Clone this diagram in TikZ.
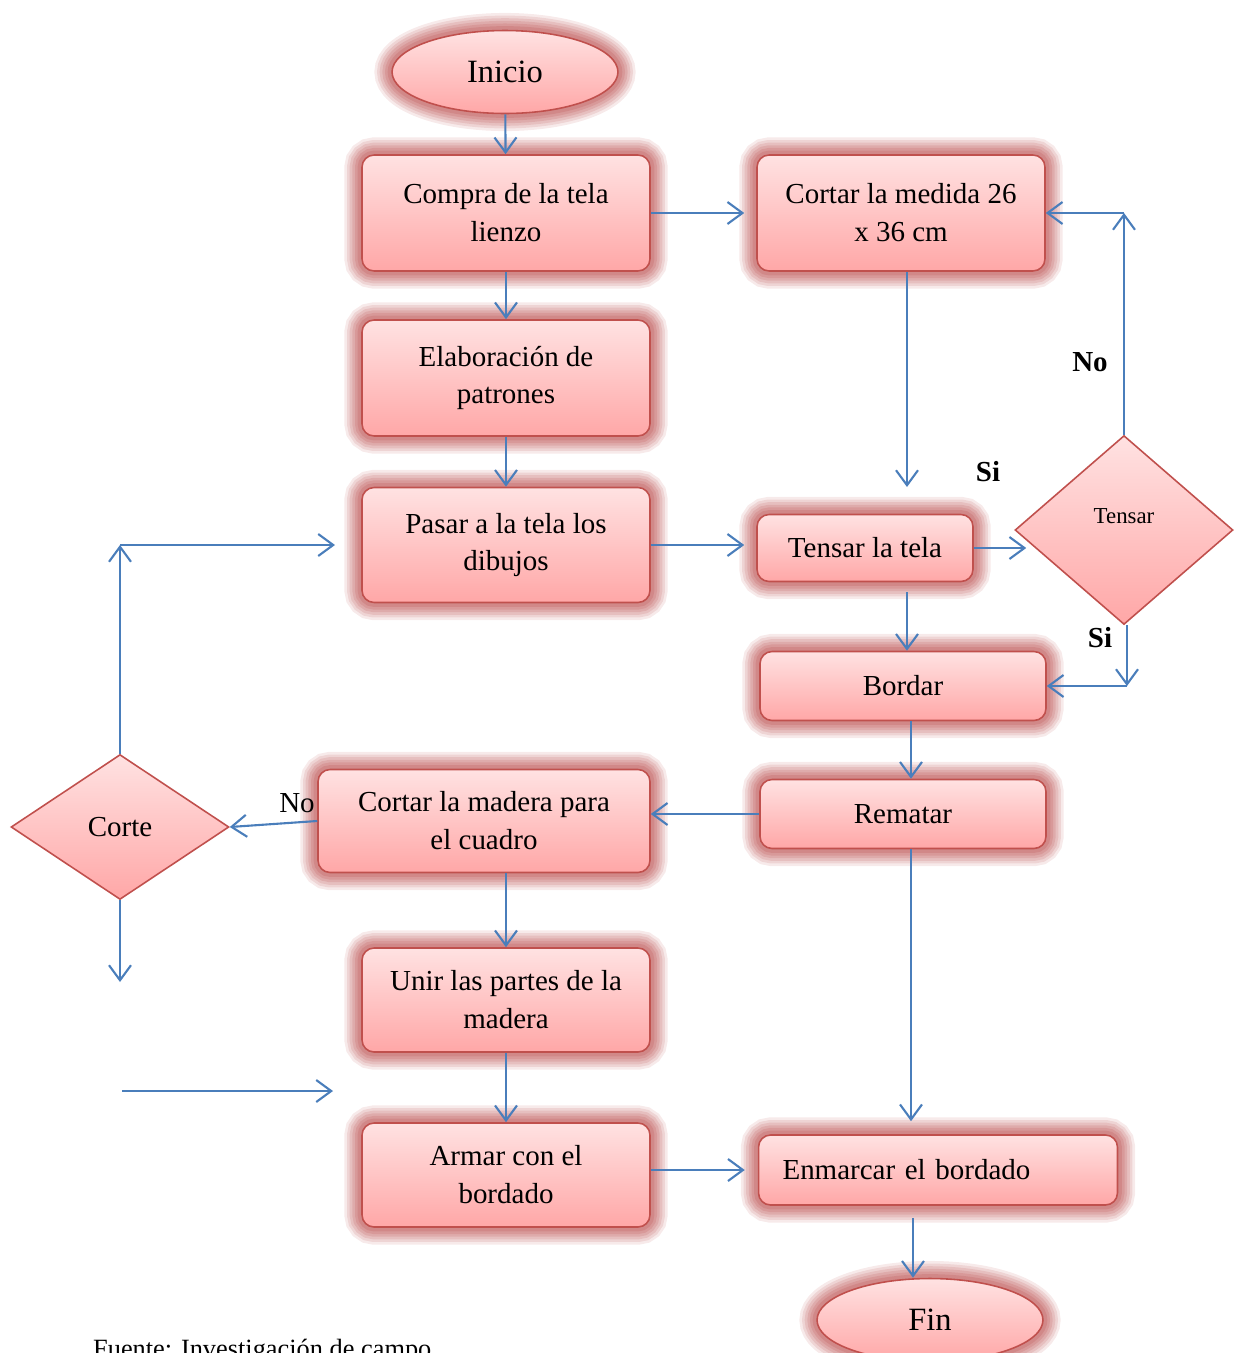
\documentclass[tikz,border=0pt]{standalone}
\usepackage{fontspec}
\setmainfont{Liberation Serif}
\usetikzlibrary{shapes.geometric,arrows.meta}

\definecolor{boxline}{HTML}{C0504D}
\definecolor{boxtop}{HTML}{FFE2E2}
\definecolor{boxbottom}{HTML}{FFA7A7}
\definecolor{glowred}{HTML}{B03232}
\definecolor{flowblue}{HTML}{4A7EBB}

\tikzset{
  glow/.style={preaction={draw=glowred,line width=20pt,opacity=0.10},
               preaction={draw=glowred,line width=17pt,opacity=0.12},
               preaction={draw=glowred,line width=14pt,opacity=0.13},
               preaction={draw=glowred,line width=11pt,opacity=0.14},
               preaction={draw=glowred,line width=8pt,opacity=0.15},
               preaction={draw=glowred,line width=5pt,opacity=0.16}},
  relleno/.style={draw=boxline,line width=0.9pt,top color=boxtop,bottom color=boxbottom,
                  font=\fontsize{16.5}{21.6}\selectfont,inner sep=0pt,align=center},
  paso/.style={relleno,glow,rectangle,rounded corners=0.24cm},
  extremo/.style={relleno,glow,ellipse,minimum width=4.52cm,minimum height=1.66cm,
                  font=\fontsize{18.5}{22}\selectfont},
  decision/.style={relleno,diamond,minimum width=4.36cm},
  flecha/.style={draw=flowblue,line width=1.2pt,-{Straight Barb[length=3mm,width=4.4mm]}},
  etiqueta/.style={font=\fontsize{16.5}{20}\selectfont\bfseries}
}

\begin{document}
\begin{tikzpicture}[x=0.02cm,y=-0.02cm]
\useasboundingbox (0,0) rectangle (1235,1353);

% columna central
\node[extremo] (inicio) at (505,72) {Inicio};
\node[paso,minimum width=5.76cm,minimum height=2.32cm] (compra) at (506,213) {Compra de la tela\\lienzo};
\node[paso,minimum width=5.76cm,minimum height=2.32cm] (patrones) at (506,378) {Elaboración de\\patrones};
\node[paso,minimum width=5.76cm,minimum height=2.30cm] (pasar) at (506,545) {Pasar a la tela los\\dibujos};
\node[paso,minimum width=6.64cm,minimum height=2.06cm] (madera) at (484,821) {Cortar la madera para\\el cuadro};
\node[paso,minimum width=5.76cm,minimum height=2.08cm] (unir) at (506,1000) {Unir las partes de la\\madera};
\node[paso,minimum width=5.76cm,minimum height=2.08cm] (armar) at (506,1175) {Armar con el\\bordado};

% columna derecha
\node[paso,minimum width=5.76cm,minimum height=2.32cm] (medida) at (901,213) {Cortar la medida 26\\x 36 cm};
\node[paso,minimum width=4.32cm,minimum height=1.34cm] (tensarTela) at (865,548) {Tensar la tela};
\node[paso,minimum width=5.72cm,minimum height=1.38cm] (bordar) at (903,686) {Bordar};
\node[paso,minimum width=5.72cm,minimum height=1.38cm] (rematar) at (903,814) {Rematar};
\node[paso,minimum width=7.18cm,minimum height=1.40cm,text width=6.22cm,align=left] (enmarcar) at (938,1170) {Enmarcar el bordado};
\node[extremo] (fin) at (930,1320) {Fin};

% decisiones
\node[decision,minimum height=3.78cm,
      label={[font=\fontsize{13}{15}\selectfont,yshift=0.28cm]center:Tensar}] (tensar) at (1124,530) {};
\node[decision,minimum height=2.90cm] (corte) at (120,827) {Corte};

% etiquetas
\node[etiqueta] (siMedida) at (988,472) {Si};
\node[etiqueta] (noTensar) at (1090,362) {No};
\node[etiqueta] (siTensar) at (1100,638) {Si};
\node[font=\fontsize{16.5}{20}\selectfont] (noCorte) at (297,803) {No};
\node[anchor=base west,font=\fontsize{15}{18}\selectfont] (fuente) at (87,1357) {Fuente: Investigación de campo};

% puntos de paso
\coordinate (medidaFin) at (907,487);
\coordinate (noEsquina) at (tensar.north |- medida.east);
\coordinate (siEsquina) at (1127,686);
\coordinate (corteArriba) at (corte.north |- pasar.west);
\coordinate (corteDerecha) at (335,545);
\coordinate (corteAbajo) at (corte.south |- 0,982);
\coordinate (entraA) at (122,1091);
\coordinate (entraB) at (333,1091);
\coordinate (finX) at (913,0);

% flechas
\draw[flecha] (inicio) -- (compra);
\draw[flecha] (compra) -- (patrones);
\draw[flecha] (patrones) -- (pasar);
\draw[flecha,shorten >=0.24cm] (compra) -- (medida);
\draw[flecha,shorten >=0.24cm] (pasar.east) -- (pasar.east -| tensarTela.west);
\draw[flecha] (medida.south -| medidaFin) -- (medidaFin);
\draw[flecha] (tensarTela.east) -- ([xshift=0.24cm]tensarTela.east -| tensar.west);
\draw[flecha] (tensar.north) -- (noEsquina);
\draw[flecha] (noEsquina) -- (medida.east);
\draw[flecha] (tensar.south -| siEsquina) -- (siEsquina);
\draw[flecha] (siEsquina) -- (bordar.east);
\draw[flecha,shorten <=0.2cm] (tensarTela.south -| medidaFin) -- (bordar.north -| medidaFin);
\draw[flecha] ([xshift=0.16cm]bordar.south) -- ([xshift=0.16cm]rematar.north);
\draw[flecha] (rematar.west) -- (madera.east |- rematar.west);
\draw[flecha,shorten >=0.26cm] ([xshift=0.16cm]rematar.south) -- ([xshift=0.16cm]rematar.south |- enmarcar.north);
\draw[flecha] (madera.west) -- (corte.east);
\draw[flecha] (madera.south -| unir.north) -- (unir.north);
\draw[flecha] (unir) -- (armar);
\draw[flecha,shorten >=0.26cm] (armar.east |- enmarcar.west) -- (enmarcar.west);
\draw[flecha,shorten <=0.24cm] (enmarcar.south -| finX) -- (fin.north -| finX);
\draw[flecha] (corte.north) -- (corteArriba);
\draw[flecha] (corteArriba) -- (corteDerecha);
\draw[flecha] (corte.south) -- (corteAbajo);
\draw[flecha] (entraA) -- (entraB);
\end{tikzpicture}
\end{document}
